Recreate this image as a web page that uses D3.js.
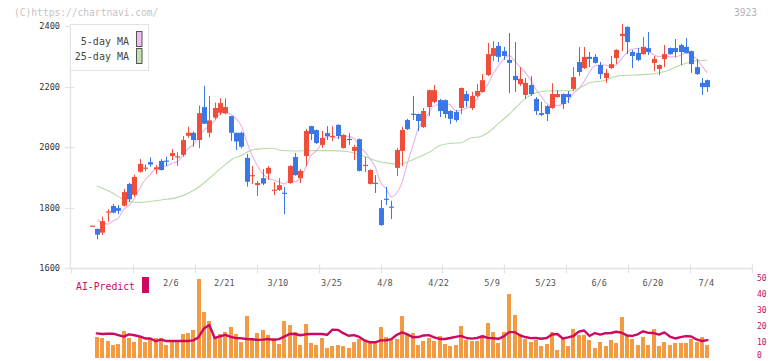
<!DOCTYPE html>
<html><head><meta charset="utf-8">
<script src="https://cdn.jsdelivr.net/npm/d3@7"></script>
<style>body{margin:0;background:#fff}svg{display:block}text{font-family:"DejaVu Sans Mono",monospace}</style>
</head><body><svg id="c" width="772" height="361"></svg>
<script>
// ---- data (index = trading day, 0..115) ----
const openP = [1740,1729,1717,1786,1805,1798,1806,1878,1842,1918,
1931,1950,1926,1954,1955,1970,1968,1974,2037,2047,
2023,2132,2047,2097,2113,2111,2102,2047,2047,1964,
1904,1874,1897,1912,1857,1858,1849,1881,1967,1897,
1970,2069,2056,2007,2046,2035,2073,1997,2027,1987,
2026,1939,1878,1882,1798,1829,1803,1931,1987,2089,
2110,2109,2066,2132,2149,2155,2155,2119,2116,2129,
2175,2129,2169,2182,2238,2301,2334,2317,2288,2235,
2208,2172,2205,2159,2112,2135,2129,2165,2175,2175,
2192,2281,2261,2298,2298,2271,2228,2261,2294,2367,
2397,2314,2311,2307,2327,2278,2258,2291,2327,2327,
2337,2331,2317,2264,2212,2221];
const highP = [1740,1731,1770,1794,1812,1808,1861,1882,1908,1960,
1942,1966,1940,1960,1968,1993,1983,2036,2067,2051,
2137,2202,2169,2147,2161,2161,2102,2047,2051,1977,
1937,1888,1927,1937,1884,1897,1868,1940,1980,1927,
2060,2070,2058,2053,2069,2069,2075,2042,2046,2007,
2028,1967,1926,1907,1825,1868,1822,1997,2066,2093,
2169,2111,2129,2190,2205,2159,2157,2122,2122,2197,
2185,2182,2208,2241,2344,2350,2347,2331,2377,2347,
2264,2228,2235,2165,2149,2139,2211,2188,2177,2185,
2264,2330,2331,2314,2307,2281,2258,2301,2323,2407,
2399,2321,2327,2364,2380,2301,2273,2337,2329,2357,
2341,2360,2319,2291,2228,2223];
const lowP = [1740,1695,1709,1753,1781,1778,1803,1818,1836,1915,
1920,1935,1911,1922,1937,1957,1937,1968,2031,2001,
1996,2077,2032,2091,2106,2108,2020,1990,1996,1869,
1878,1838,1874,1891,1841,1855,1778,1878,1905,1881,
1937,2023,2010,1997,2023,2020,2026,1995,2007,1957,
1919,1917,1876,1848,1739,1808,1762,1904,1937,2056,
2089,2053,2063,2102,2145,2099,2096,2076,2083,2109,
2132,2122,2165,2180,2235,2284,2281,2288,2178,2182,
2202,2159,2169,2106,2102,2086,2126,2163,2126,2145,
2185,2235,2258,2264,2276,2225,2212,2258,2274,2317,
2307,2261,2284,2305,2304,2251,2238,2264,2305,2297,
2271,2309,2245,2238,2172,2182];
const closeP = [1740,1710,1755,1787,1783,1789,1851,1827,1901,1944,
1932,1942,1933,1924,1953,1980,1969,2023,2047,2023,
2112,2077,2088,2129,2145,2132,2047,2018,2001,1885,
1907,1881,1879,1931,1859,1874,1847,1937,1907,1921,
2053,2043,2013,2030,2036,2037,2036,2040,2025,2000,
1921,1941,1924,1880,1742,1827,1801,1990,2056,2059,
2108,2086,2119,2188,2188,2119,2109,2093,2089,2195,
2152,2169,2185,2221,2307,2327,2298,2301,2278,2221,
2225,2212,2175,2119,2106,2109,2175,2175,2142,2165,
2231,2248,2298,2291,2278,2241,2245,2274,2321,2374,
2347,2301,2288,2331,2314,2291,2271,2307,2307,2314,
2314,2311,2274,2241,2198,2198];
const ma5 = [null,1760,1750,1745,1755,1765,1793,1807,1830,1862,
1891,1909,1930,1935,1937,1946,1952,1970,1994,2008,
2035,2056,2069,2086,2110,2114,2108,2094,2069,2017,
1972,1938,1911,1897,1891,1885,1878,1890,1885,1897,
1933,1972,1987,2012,2035,2032,2030,2036,2035,2028,
2004,1985,1962,1933,1882,1863,1835,1848,1883,1947,
2003,2060,2086,2112,2138,2140,2145,2139,2120,2121,
2128,2140,2158,2184,2207,2242,2268,2291,2302,2285,
2265,2247,2222,2190,2167,2144,2137,2137,2141,2153,
2178,2192,2217,2247,2269,2271,2271,2266,2272,2291,
2312,2323,2326,2328,2316,2305,2299,2303,2298,2298,
2303,2311,2304,2291,2268,2245];
const ma25Idx = [1,3.5,7,9,13,16.5,19.5,22,24.5,26.5,28,29.6,31,34,35,38.3,41.4,44.5,47.7,50.8,53.3,55.7,57.6,60.1,63.2,65,67,69,70.7,72.5,74,75.7,77.5,79.4,81.3,83.1,85,87.5,89.4,91.2,93.1,95.6,98.7,101.8,103.7,105.5,107.4,109.3,111.1,113,115];
const ma25Val = [1871,1852,1820,1817,1825,1836,1861,1896,1935,1962,1972,1988,1993,1996,1990,1987,1988,1988,1985,1970,1954,1946,1944,1959,1984,2005,2012,2014,2029,2034,2047,2073,2100,2133,2164,2180,2185,2186,2186,2195,2213,2219,2236,2238,2240,2244,2251,2266,2277,2285,2287];
const volume = [0,13.1,12.5,10.6,8.1,8.75,16.9,12.5,10,13.1,
10,11.9,12.5,12.5,8.1,10,11.25,15,15.6,17.5,
49.4,28.75,23.1,12.5,15,16.25,19.4,15,10,26.25,
11.25,15.6,17.5,14.4,12.5,8.75,23.1,20.6,16.25,8.1,
21.25,9.4,8.1,12.5,6.25,7.5,8.1,7.5,6.25,10,
11.9,11.25,10,9.4,19.4,13.1,11.9,11.9,26.25,15,
15.6,8.1,10.6,12.5,10.6,13.75,8.75,7.5,8.1,20,
11.25,10.6,10.6,13.75,21.9,16.25,9.4,16.25,40,26.9,
15,11.9,10,11.25,7.5,8.75,16.25,5,11.9,7.5,
18.1,14.4,14.4,11.25,6.25,10,7.5,11.25,9.4,25.6,
14.4,11.9,8.1,13.1,8.1,18.1,7.5,10,8.1,9.4,
9.4,9.4,11.9,10,13.1,8.1];
const aiPredict = [null,15.4,15,15.2,15.2,14.3,13.4,14.8,14.2,13.5,
12.2,12.2,10.5,11.5,10.6,10.6,10.6,10.6,10.6,11.0,
13.0,18.5,20.6,12.5,13.5,14.4,13.2,12.4,12.3,11.9,
11.7,11.3,11.5,11.9,11.3,11.8,13.4,15,15,14.2,
14.8,15,15,15,14.5,17.7,17.6,15.5,13.9,14.3,
13.2,11,9.8,9.8,11,11,11.8,14.5,16,14.8,
13,13.1,14.1,14.3,12.9,11.9,11.9,12.5,13.2,13.8,
12.5,12.1,12.5,13.6,12.6,12.3,12,13.5,16.2,16.2,
14.2,13.1,12.4,12.5,12,12.5,14.7,15,12.2,12.9,
13.75,16.5,17.2,13.75,15.6,14.6,15.5,15.6,16.4,15.8,
14.1,13.8,14.8,16.7,15.7,15.6,14.6,16,13.4,12.2,
13,13.7,13.4,11.6,10.6,11.2];
const xLabels = ["2/6","2/21","3/10","3/25","4/8","4/22","5/9","5/23","6/6","6/20","7/4"];
const xLabelIdx = [15,25,35,45,55,65,75,85,95,105,115];
const priceTicks = [1600,1800,2000,2200,2400];
const volTicks = [0,10,20,30,40,50];
const gridTickCount = 11;

// ---- drawing ----
const svg = d3.select("#c");
const x = d3.scaleLinear().domain([0,115]).range([91.5,707.3]);
const y = d3.scaleLinear().domain([1600,2400]).range([268,26]);
const yv = d3.scaleLinear().domain([0,50]).range([358,278]);
const tx = d3.scaleLinear().domain([0,gridTickCount]).range([71,752]);
const RED="#f04e3b", BLUE="#3b78e7", AXIS="#e2e2e2";

// header texts
svg.append("text").attr("x",14).attr("y",12.5).attr("dominant-baseline","central")
  .attr("font-size",9.6).attr("fill","#c4c4c4").text("(C)https://chartnavi.com/");
svg.append("text").attr("x",757).attr("y",12.5).attr("dominant-baseline","central").attr("text-anchor","end")
  .attr("font-size",9.6).attr("fill","#b4b4b4").text("3923");

// axes
svg.append("line").attr("x1",70.5).attr("x2",70.5).attr("y1",24).attr("y2",268.5).attr("stroke",AXIS).attr("stroke-width",1.3);
svg.append("line").attr("x1",70).attr("x2",752).attr("y1",268.5).attr("y2",268.5).attr("stroke",AXIS).attr("stroke-width",1.3);
svg.selectAll(".yt").data(priceTicks).enter().append("line")
  .attr("x1",65).attr("x2",74).attr("y1",d=>Math.round(y(d))+0.5).attr("y2",d=>Math.round(y(d))+0.5)
  .attr("stroke",AXIS).attr("stroke-width",1.2);
svg.selectAll(".yl").data(priceTicks).enter().append("text")
  .attr("x",60).attr("y",d=>y(d)).attr("dominant-baseline","central").attr("text-anchor","end")
  .attr("font-size",8.6).attr("fill","#333").text(d=>d);
svg.selectAll(".xt").data(d3.range(0,gridTickCount+1)).enter().append("line")
  .attr("x1",d=>Math.round(tx(d))+0.5).attr("x2",d=>Math.round(tx(d))+0.5)
  .attr("y1",d=>d===0?268:264.5).attr("y2",273.5).attr("stroke",AXIS).attr("stroke-width",1.2);
svg.selectAll(".xl").data(xLabels).enter().append("text")
  .attr("x",(d,i)=>x(xLabelIdx[i])-1).attr("y",282.5).attr("dominant-baseline","central").attr("text-anchor","middle")
  .attr("font-size",8.6).attr("fill","#555").text(d=>d);

// moving averages
const lineMA5 = d3.line().defined(d=>d!=null).x((d,i)=>x(i)).y(d=>y(d)).curve(d3.curveMonotoneX);
svg.append("path").datum(ma5).attr("d",lineMA5).attr("fill","none").attr("stroke","#e9b3ea").attr("stroke-width",1.1);
const lineMA25 = d3.line().x((d,i)=>x(ma25Idx[i])).y(d=>y(d)).curve(d3.curveMonotoneX);
svg.append("path").datum(ma25Val).attr("d",lineMA25).attr("fill","none").attr("stroke","#b6dba6").attr("stroke-width",1.1);

// candles
const idx = d3.range(openP.length);
const g = svg.append("g");
g.selectAll(".wick").data(idx).enter().append("line")
  .attr("x1",i=>Math.round(x(i))+0.5).attr("x2",i=>Math.round(x(i))+0.5)
  .attr("y1",i=>y(highP[i])).attr("y2",i=>y(lowP[i]))
  .attr("stroke",i=>closeP[i]>=openP[i]?RED:BLUE).attr("stroke-width",1);
g.selectAll(".body").data(idx).enter().append("rect")
  .attr("x",i=>Math.round(x(i))-2).attr("width",5)
  .attr("y",i=>Math.min(y(openP[i]),y(closeP[i])))
  .attr("height",i=>Math.max(1.2,Math.abs(y(openP[i])-y(closeP[i]))))
  .attr("fill",i=>closeP[i]>=openP[i]?RED:BLUE);

// legend
const lg = svg.append("g");
lg.append("rect").attr("x",70.5).attr("y",24.5).attr("width",78).attr("height",46).attr("fill","#fff").attr("stroke","#e2e2e2");
lg.append("text").attr("x",129).attr("y",41.5).attr("dominant-baseline","central").attr("text-anchor","end")
  .attr("font-size",10).attr("fill","#444").text("5-day MA");
lg.append("text").attr("x",129).attr("y",56.5).attr("dominant-baseline","central").attr("text-anchor","end")
  .attr("font-size",10).attr("fill","#444").text("25-day MA");
lg.append("rect").attr("x",136.5).attr("y",31.5).attr("width",5.5).attr("height",15).attr("fill","#efbdef").attr("stroke","#555").attr("stroke-width",1);
lg.append("rect").attr("x",136.5).attr("y",48.5).attr("width",5.5).attr("height",15).attr("fill","#bfe0b1").attr("stroke","#555").attr("stroke-width",1);

// volume panel
svg.selectAll(".vol").data(idx.filter(i=>volume[i]>0)).enter().append("rect")
  .attr("x",i=>Math.round(x(i))-2).attr("width",4)
  .attr("y",i=>yv(volume[i])).attr("height",i=>yv(0)-yv(volume[i]))
  .attr("fill","#f39a42");
const lineAI = d3.line().defined(d=>d!=null).x((d,i)=>x(i)).y(d=>yv(d));
svg.append("path").datum(aiPredict).attr("d",lineAI).attr("fill","none").attr("stroke","#cc0a62")
  .attr("stroke-width",2.4).attr("stroke-linejoin","round").attr("stroke-linecap","round");
svg.selectAll(".vl").data(volTicks).enter().append("text")
  .attr("x",757).attr("y",d=>Math.min(yv(d),355.5)).attr("dominant-baseline","central")
  .attr("font-size",8).attr("fill","#cc0a62").text(d=>d);
svg.append("text").attr("x",76).attr("y",286).attr("dominant-baseline","central")
  .attr("font-size",9.8).attr("fill","#cc0a62").text("AI-Predict");
svg.append("rect").attr("x",142).attr("y",277).attr("width",7).attr("height",16).attr("fill","#cc0a62");
</script></body></html>
